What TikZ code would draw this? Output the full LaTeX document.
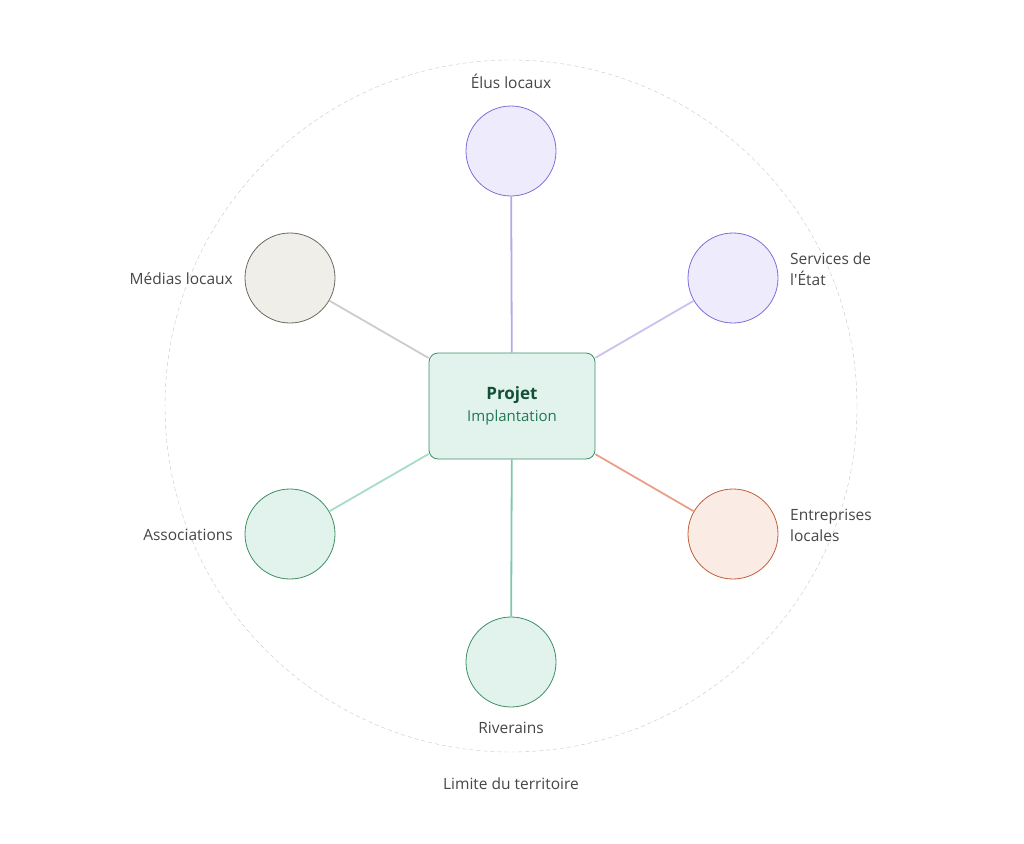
\documentclass[tikz,border=0pt]{standalone}
\usepackage{fontspec}
\setmainfont{Open Sans}
\begin{document}
\begin{tikzpicture}[x=1pt,y=-1pt,
  lbl/.style={text={rgb,255:red,70;green,70;blue,70},font=\fontsize{15.5}{21}\selectfont,align=left,inner sep=0pt},
  st/.style={circle,minimum size=90pt,inner sep=0pt,line width=0.8pt},
  ln/.style={line width=1.8pt}]
\useasboundingbox (0,0) rectangle (1024,843);
\node[circle,draw=black!22,dash pattern=on 4pt off 3pt,minimum size=692pt,inner sep=0pt] (lim) at (511,406) {};
\node[draw={rgb,255:red,62;green,142;blue,99},fill={rgb,255:red,225;green,243;blue,236},rounded corners=9pt,minimum width=166pt,minimum height=106pt,line width=0.8pt,align=center] (p) at (512,406)
 {{\fontsize{17}{20}\selectfont\bfseries\color[RGB]{20,80,55}Projet}\\[6pt]{\fontsize{15}{18}\selectfont\color[RGB]{35,120,85}Implantation}};
\node[st,fill={rgb,255:red,238;green,236;blue,252},draw={rgb,255:red,123;green,111;blue,216}] (e) at (511,151) {};
\node[st,fill={rgb,255:red,238;green,236;blue,252},draw={rgb,255:red,123;green,111;blue,216}] (s) at (733,278) {};
\node[st,fill={rgb,255:red,250;green,235;blue,229},draw={rgb,255:red,192;green,96;blue,58}] (en) at (733,534) {};
\node[st,fill={rgb,255:red,225;green,243;blue,236},draw={rgb,255:red,62;green,142;blue,99}] (r) at (511,662) {};
\node[st,fill={rgb,255:red,225;green,243;blue,236},draw={rgb,255:red,62;green,142;blue,99}] (a) at (290,534) {};
\node[st,fill={rgb,255:red,240;green,238;blue,232},draw={rgb,255:red,107;green,106;blue,96}] (m) at (290,278) {};
\draw[ln,draw={rgb,255:red,180;green,168;blue,234}] (p) -- (e);
\draw[ln,draw={rgb,255:red,201;green,194;blue,240}] (p) -- (s);
\draw[ln,draw={rgb,255:red,232;green,160;blue,138}] (p) -- (en);
\draw[ln,draw={rgb,255:red,124;green,201;blue,168}] (p) -- (r);
\draw[ln,draw={rgb,255:red,168;green,220;blue,198}] (p) -- (a);
\draw[ln,draw={rgb,255:red,204;green,204;blue,204}] (p) -- (m);
\node[lbl] (le) at (511,81) {Élus locaux};
\node[lbl,anchor=west] (ls) at (790,269) {Services de\\l\textquotesingle État};
\node[lbl,anchor=west] (len) at (790,525) {Entreprises\\locales};
\node[lbl] (lr) at (511,728) {Riverains};
\node[lbl,anchor=east] (la) at (233,535) {Associations};
\node[lbl,anchor=east] (lm) at (233,279) {Médias locaux};
\node[lbl] (ll) at (511,784) {Limite du territoire};
\end{tikzpicture}
\end{document}
